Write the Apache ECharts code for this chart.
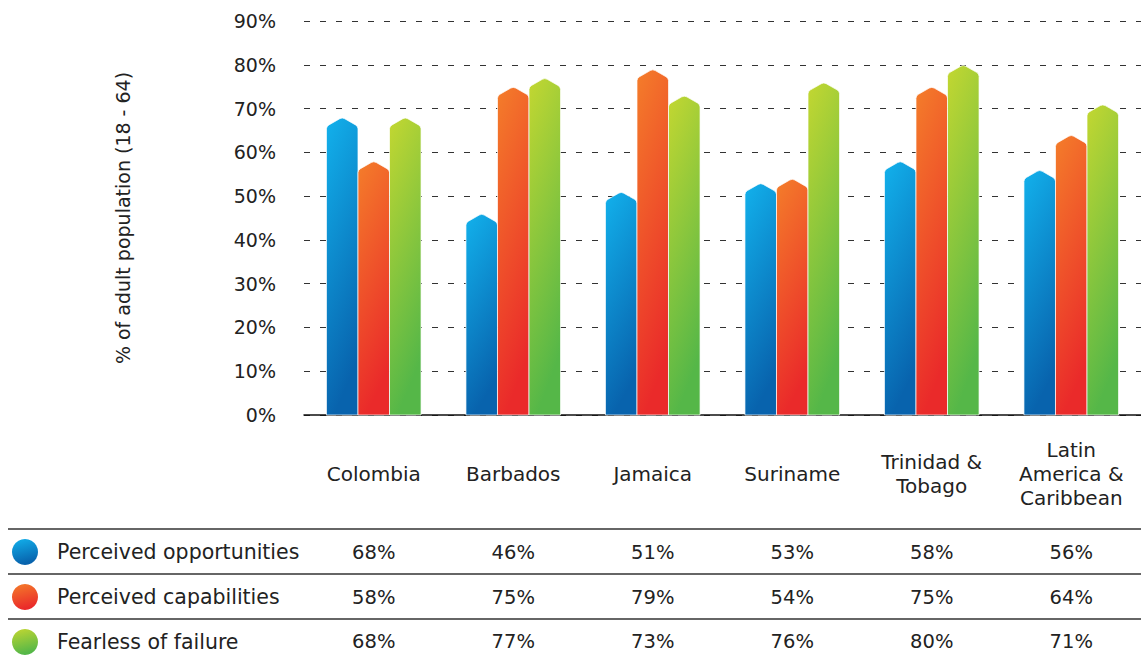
<!DOCTYPE html>
<html>
<head>
<meta charset="utf-8">
<script src="https://cdn.jsdelivr.net/npm/echarts@6/dist/echarts.min.js"></script>
<style>
html,body{margin:0;padding:0;background:#fff;}
#main{width:1141px;height:658px;}
</style>
</head>
<body>
<div id="main"></div>
<script>
var categories = ['Colombia', 'Barbados', 'Jamaica', 'Suriname', 'Trinidad &\nTobago', 'Latin\nAmerica &\nCaribbean'];
var seriesNames = ['Perceived opportunities', 'Perceived capabilities', 'Fearless of failure'];
var opportunities = [68, 46, 51, 53, 58, 56];
var capabilities = [58, 75, 79, 54, 75, 64];
var fearless = [68, 77, 73, 76, 80, 71];
var yTicks = [0, 10, 20, 30, 40, 50, 60, 70, 80, 90];

var FONT = '"DejaVu Sans", "Noto Sans", sans-serif';
var TXT = '#222';

function grad(top, bottom) {
  return new echarts.graphic.LinearGradient(0, 0, 0.25, 1, [
    {offset: 0, color: top}, {offset: 1, color: bottom}
  ]);
}
var colors = [
  grad('#12b1ec', '#0863ad'),
  grad('#f47d2a', '#ea2a2a'),
  grad('#c3d731', '#55b748')
];
var allData = [opportunities, capabilities, fearless];

function makeRender(k) {
  return function (params, api) {
    var cat = api.value(0), val = api.value(1);
    var base = api.coord([cat, 0]);
    var top = api.coord([cat, val]);
    var band = api.size([1, 0])[0];
    var bw = band * 0.226;
    var x0 = base[0] + (k - 1.5) * bw;
    var x1 = x0 + bw;
    var xc = (x0 + x1) / 2;
    var d = 9;
    var r = 2.5;
    var ty = top[1];
    var path = 'M' + x0 + ' ' + base[1] +
      ' L' + x0 + ' ' + (ty + d + r) +
      ' Q' + x0 + ' ' + (ty + d) + ' ' + (x0 + r) + ' ' + (ty + d - r * d / (bw / 2)) +
      ' L' + (xc - r) + ' ' + (ty + r * d / (bw / 2)) +
      ' Q' + xc + ' ' + ty + ' ' + (xc + r) + ' ' + (ty + r * d / (bw / 2)) +
      ' L' + (x1 - r) + ' ' + (ty + d - r * d / (bw / 2)) +
      ' Q' + x1 + ' ' + (ty + d) + ' ' + x1 + ' ' + (ty + d + r) +
      ' L' + x1 + ' ' + base[1] + ' Z';
    return {
      type: 'path',
      shape: {pathData: path},
      style: {fill: colors[k], stroke: 'rgba(255,255,255,0.7)', lineWidth: 1}
    };
  };
}

var series = allData.map(function (arr, k) {
  return {
    type: 'custom',
    name: seriesNames[k],
    xAxisIndex: 0,
    yAxisIndex: 0,
    itemStyle: {color: colors[k]},
    renderItem: makeRender(k),
    encode: {x: 0, y: 1},
    data: arr.map(function (v, i) { return [i, v]; })
  };
});

function tableAxis(arr, margin) {
  return {
    type: 'category',
    data: categories,
    position: 'bottom',
    gridIndex: 0,
    axisLine: {show: false},
    axisTick: {show: false},
    splitLine: {show: false},
    axisLabel: {
      interval: 0,
      margin: margin,
      verticalAlign: 'middle',
      fontFamily: FONT,
      fontSize: 19.5,
      color: TXT,
      formatter: function (v, i) { return arr[i] + '%'; }
    }
  };
}

var chart = echarts.init(document.getElementById('main'), null, {renderer: 'svg'});
chart.setOption({
  animation: false,
  backgroundColor: '#fff',
  grid: {left: 304, top: 21, width: 849, height: 394},
  legend: {
    orient: 'vertical',
    left: 12,
    top: 539,
    height: 119,
    padding: 0,
    itemWidth: 26,
    itemHeight: 26,
    itemGap: 19,
    icon: 'circle',
    data: seriesNames,
    textStyle: {fontFamily: FONT, fontSize: 20.5, color: TXT, padding: [0, 0, 0, 14]}
  },
  xAxis: [
    {
      type: 'category',
      data: categories,
      position: 'bottom',
      axisLine: {show: true, lineStyle: {color: '#111', width: 1.5}},
      axisTick: {show: false},
      axisLabel: {
        interval: 0,
        margin: 59,
        verticalAlign: 'middle',
        fontFamily: FONT,
        fontSize: 20,
        lineHeight: 24,
        color: TXT
      }
    },
    tableAxis(opportunities, 137),
    tableAxis(capabilities, 182),
    tableAxis(fearless, 226)
  ],
  yAxis: {
    type: 'value',
    min: yTicks[0],
    max: yTicks[yTicks.length - 1],
    interval: 10,
    name: '% of adult population (18 - 64)',
    nameLocation: 'middle',
    nameGap: 172,
    nameRotate: 90,
    nameTextStyle: {fontFamily: FONT, fontSize: 19, color: TXT},
    axisLine: {show: false},
    axisTick: {show: false},
    axisLabel: {
      margin: 28,
      fontFamily: FONT,
      fontSize: 19,
      color: TXT,
      formatter: function (v) { return v + '%'; }
    },
    splitLine: {
      show: true,
      lineStyle: {color: '#333', type: [6, 10], width: 1.2}
    }
  },
  graphic: [
    {type: 'line', shape: {x1: 8, y1: 529, x2: 1141, y2: 529}, style: {stroke: '#333', lineWidth: 1.5}},
    {type: 'line', shape: {x1: 8, y1: 574, x2: 1141, y2: 574}, style: {stroke: '#333', lineWidth: 1.5}},
    {type: 'line', shape: {x1: 8, y1: 619, x2: 1141, y2: 619}, style: {stroke: '#333', lineWidth: 1.5}}
  ],
  series: series
});
</script>
</body>
</html>
